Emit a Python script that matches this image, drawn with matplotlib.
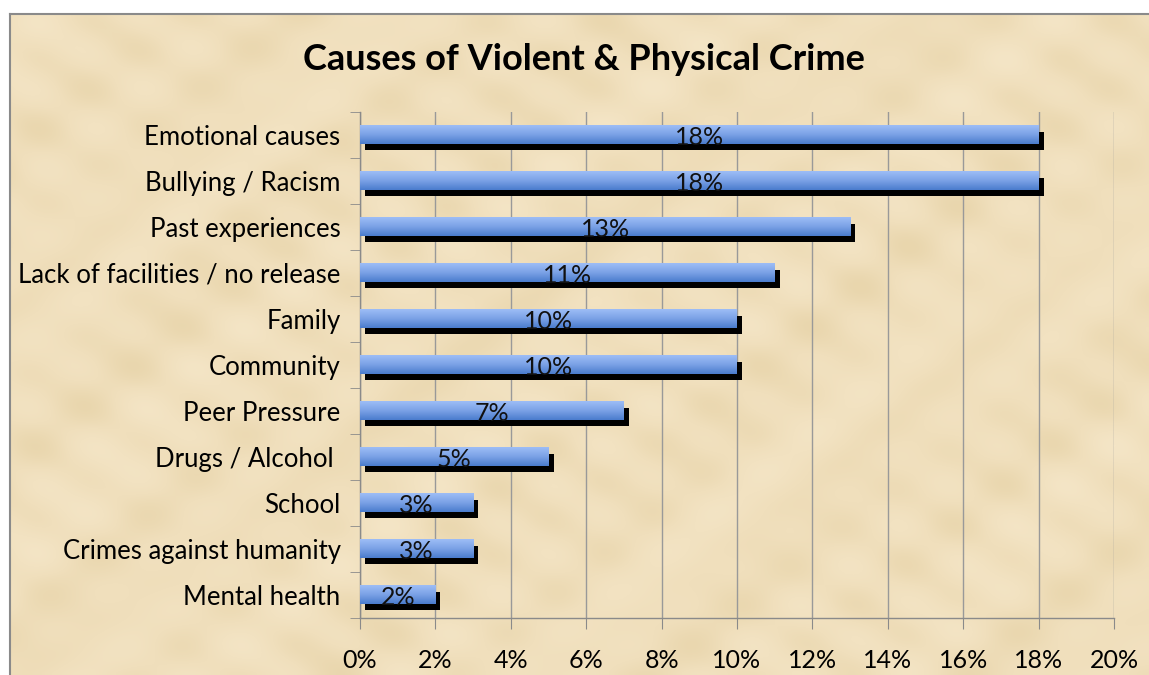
import numpy as np
import matplotlib
matplotlib.use("Agg")
import matplotlib.pyplot as plt
from matplotlib.patches import Rectangle
from matplotlib.transforms import offset_copy
from matplotlib.colors import LinearSegmentedColormap

categories = ['Emotional causes', 'Bullying / Racism', 'Past experiences',
              'Lack of facilities / no release', 'Family', 'Community',
              'Peer Pressure', 'Drugs / Alcohol ', 'School',
              'Crimes against humanity', 'Mental health']
values = [18, 18, 13, 11, 10, 10, 7, 5, 3, 3, 2]
xticks = [0, 2, 4, 6, 8, 10, 12, 14, 16, 18, 20]

plt.rcParams['font.family'] = ['Lato', 'DejaVu Sans']

W, H = 1149, 675
fig = plt.figure(figsize=(W / 100, H / 100), dpi=100)
fig.patch.set_facecolor('white')

# parchment panel with a soft mottled look (pure decoration)
top = 1 - 13.5 / H
left = 10 / W
bg = fig.add_axes([left, 0, 1 - left, top], zorder=-10)
yy, xx = np.mgrid[0:160, 0:280]
mottle = (np.sin(xx / 4.0) * np.cos(yy / 3.0) + 0.7 * np.sin((xx + yy) / 6.5)
          + 0.6 * np.cos((xx - 2 * yy) / 5.0) + 0.5 * np.sin(xx / 13.0 + yy / 9.0))
paper = LinearSegmentedColormap.from_list('paper', ['#E9D6AD', '#F0DFBC', '#F4E5C6'])
bg.imshow(mottle, cmap=paper, aspect='auto', interpolation='bilinear',
          extent=[0, 1, 0, 1])
bg.set_xlim(0, 1)
bg.set_ylim(0, 1)
bg.set_xticks([])
bg.set_yticks([])
for s in ['right', 'bottom']:
    bg.spines[s].set_visible(False)
for s in ['left', 'top']:
    bg.spines[s].set_color('#8a8a8a')
    bg.spines[s].set_linewidth(1.5)

ax = fig.add_axes([360 / W, (H - 618) / H, 754 / W, (618 - 112) / H])
ax.set_facecolor('none')

blue = LinearSegmentedColormap.from_list('bar', ['#9DBDF6', '#7BA2E6', '#4A7CCD'])
grad = np.linspace(0, 1, 64).reshape(-1, 1)
bh = 0.41
shadow_tr = offset_copy(ax.transData, fig=fig, x=5, y=-6, units='dots')

for i, v in enumerate(values):
    ax.add_patch(Rectangle((0, i - bh / 2), v, bh, facecolor='black',
                           edgecolor='none', transform=shadow_tr, zorder=2))
    ax.imshow(grad, extent=[0, v, i + bh / 2, i - bh / 2], cmap=blue,
              aspect='auto', zorder=3, interpolation='bilinear')
    ax.text(v / 2, i + 0.06, f'{v}%', ha='center', va='center',
            fontsize=18, color='#111111', zorder=4)

ax.set_xlim(0, 20)
ax.set_ylim(len(values) - 0.5, -0.5)

ax.set_xticks(xticks)
ax.set_xticklabels([f'{t}%' for t in xticks], fontsize=18)
ax.set_yticks(range(len(categories)))
ax.set_yticklabels(categories, fontsize=18.5)
ax.set_yticks(np.arange(-0.5, len(categories)), minor=True)
ax.tick_params(axis='y', which='major', length=0, pad=14)
ax.tick_params(axis='y', which='minor', length=7, color='#8a8a8a', direction='out')
ax.tick_params(axis='x', length=8, color='#8a8a8a', pad=14)

ax.grid(axis='x', color='#999999', linewidth=1, zorder=1)
ax.set_axisbelow(True)
for s in ['top', 'right']:
    ax.spines[s].set_visible(False)
for s in ['left', 'bottom']:
    ax.spines[s].set_color('#8a8a8a')
    ax.spines[s].set_linewidth(1)

fig.text(584 / W, 1 - 60 / H, 'Causes of Violent & Physical Crime',
         ha='center', va='center', fontsize=26, fontweight='bold')

fig.savefig('out.png', dpi=100)
